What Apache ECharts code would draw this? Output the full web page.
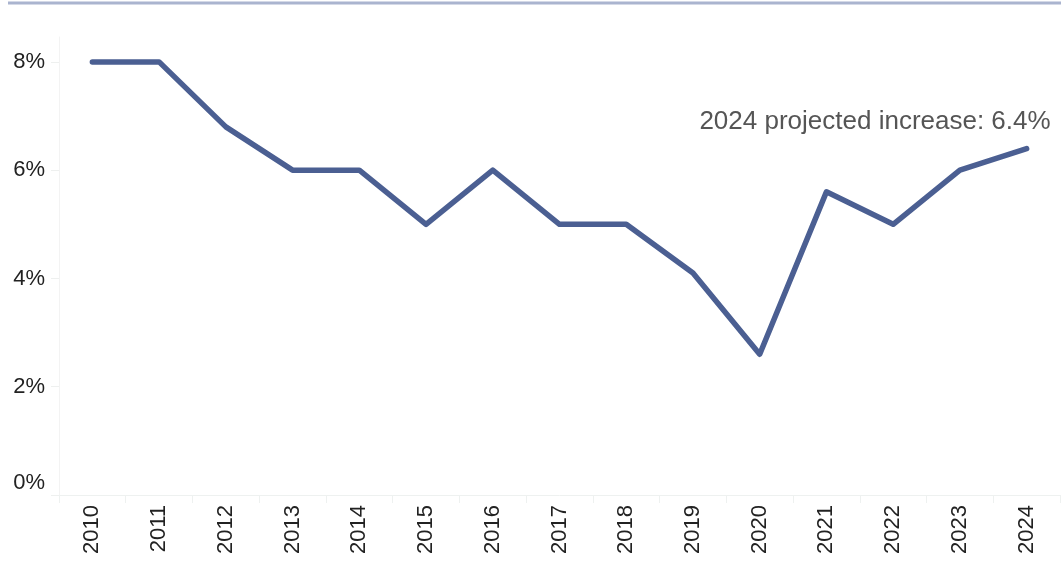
<!DOCTYPE html>
<html>
<head>
<meta charset="utf-8">
<script src="https://cdn.jsdelivr.net/npm/echarts@6/dist/echarts.min.js"></script>
<style>html,body{margin:0;padding:0;background:#fff}#c{width:1061px;height:565px}</style>
</head>
<body>
<div id="c"></div>
<script>
const years = ['2010','2011','2012','2013','2014','2015','2016','2017','2018','2019','2020','2021','2022','2023','2024'];
const values = [8, 8, 6.8, 6, 6, 5, 6, 5, 5, 4.1, 2.6, 5.6, 5, 6, 6.4];
const yTicks = [0, 2, 4, 6, 8];
const annotation = '2024 projected increase: 6.4%';

const chart = echarts.init(document.getElementById('c'), null, {renderer: 'canvas'});
const lastIdx = values.length - 1;
const font = 'Liberation Sans, Arial, sans-serif';
chart.setOption({
  animation: false,
  graphic: [{
    type: 'line', shape: {x1: 8, y1: 3, x2: 1061, y2: 3},
    style: {stroke: '#aab4cf', lineWidth: 3}
  }],
  grid: {left: 59, right: 1, top: 37, bottom: 70},
  xAxis: {
    type: 'category',
    data: years,
    boundaryGap: true,
    axisLine: {show: true, lineStyle: {color: '#eef1f0', width: 1}},
    axisTick: {show: true, length: 8, lineStyle: {color: '#eef1f0'}},
    axisLabel: {rotate: 90, margin: 10, fontSize: 22, color: '#222', fontFamily: font},
    splitLine: {show: false}
  },
  yAxis: {
    type: 'value',
    min: 0, max: 8.46,
    axisLine: {show: true, lineStyle: {color: '#f3f3f3', width: 1}},
    axisTick: {show: true, length: 8, customValues: yTicks, lineStyle: {color: '#eef0ef'}},
    axisLabel: {
      customValues: yTicks,
      margin: 14, fontSize: 22, color: '#222', fontFamily: font,
      formatter: v => v === 0 ? '{z|0%}' : v + '%',
      rich: {z: {fontSize: 22, color: '#222', fontFamily: font, padding: [0, 0, 24, 0]}}
    },
    splitLine: {show: false}
  },
  series: [{
    type: 'line',
    data: values,
    showSymbol: false,
    symbol: 'none',
    lineStyle: {color: '#4b5f92', width: 5.5, cap: 'round', join: 'round'},
    markPoint: {
      symbol: 'circle', symbolSize: 0,
      silent: true,
      data: [{
        coord: [lastIdx, values[lastIdx]],
        label: {
          show: true, position: 'top', formatter: annotation,
          align: 'right', offset: [24, -9],
          fontSize: 26, color: '#555', fontFamily: font
        }
      }]
    }
  }]
});
</script>
</body>
</html>
